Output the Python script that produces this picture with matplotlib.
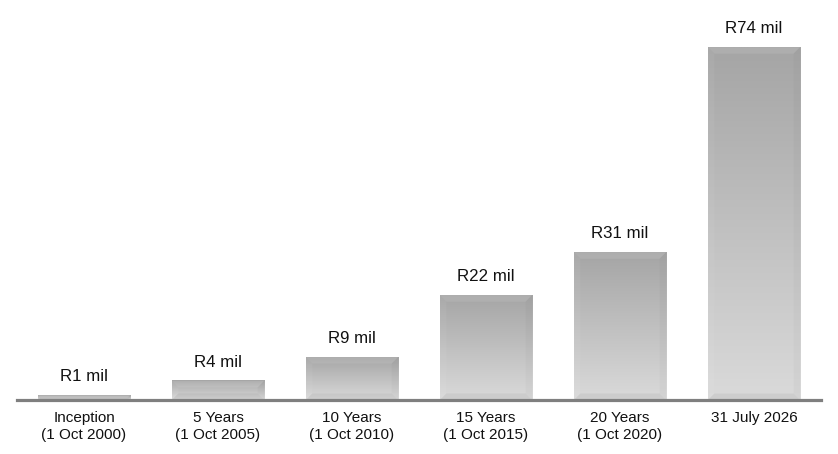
import numpy as np
import matplotlib
matplotlib.use("Agg")
import matplotlib.pyplot as plt
from matplotlib.colors import LinearSegmentedColormap
from matplotlib.patches import Polygon

plt.rcParams['font.family'] = ['Liberation Sans', 'DejaVu Sans']

categories = ['Inception\n(1 Oct 2000)', '5 Years\n(1 Oct 2005)', '10 Years\n(1 Oct 2010)',
              '15 Years\n(1 Oct 2015)', '20 Years\n(1 Oct 2020)', '31 July 2026']
values = [1, 4, 9, 22, 31, 74]
labels = ['R1 mil', 'R4 mil', 'R9 mil', 'R22 mil', 'R31 mil', 'R74 mil']

W, H = 838, 454
fig = plt.figure(figsize=(W / 100, H / 100), dpi=100)
# axes spans pixel x 18..822 and y 10..400 (from top)
ax = fig.add_axes([17 / W, (H - 400) / H, 804 / W, 390 / H])
ax.set_xlim(-0.5, 5.5)
ax.set_ylim(0, 81.8)

bw = 0.688
cmap = LinearSegmentedColormap.from_list('g', ['#dadada', '#a5a5a5'])
grad = np.linspace(0, 1, 256).reshape(-1, 1)

px_x = 804 / 6.0      # pixels per x unit
px_y = 390 / 81.8     # pixels per y unit
bev = 6.5

x = np.arange(len(values))
for xi, v in zip(x, values):
    l, r = xi - bw / 2, xi + bw / 2
    ax.imshow(grad, extent=[l, r, 0, v], origin='lower', cmap=cmap,
              aspect='auto', zorder=2, interpolation='bilinear')
    dx = bev / px_x
    dy = min(bev / px_y, v / 2.0)
    dxx = min(dx, dy * px_y / px_x) if v / 2.0 < bev / px_y else dx
    # top bevel (lighter)
    ax.add_patch(Polygon([[l, v], [r, v], [r - dxx, v - dy], [l + dxx, v - dy]],
                         closed=True, facecolor='white', alpha=0.1, lw=0, zorder=3))
    # left bevel (slightly lighter)
    ax.add_patch(Polygon([[l, v], [l + dxx, v - dy], [l + dxx, dy], [l, 0]],
                         closed=True, facecolor='white', alpha=0.05, lw=0, zorder=3))
    # right bevel (darker)
    ax.add_patch(Polygon([[r, v], [r - dxx, v - dy], [r - dxx, dy], [r, 0]],
                         closed=True, facecolor='black', alpha=0.025, lw=0, zorder=3))
    # bottom bevel (darker)
    ax.add_patch(Polygon([[l, 0], [r, 0], [r - dxx, dy], [l + dxx, dy]],
                         closed=True, facecolor='black', alpha=0.05, lw=0, zorder=3))

for xi, v, t in zip(x, values, labels):
    ax.annotate(t, (xi, v), xytext=(0, 8), textcoords='offset points',
                ha='center', va='bottom', fontsize=12.2, color='#111111')

ax.axhline(0, color='#7f7f7f', lw=2.3, zorder=4, clip_on=False)
for s in ax.spines.values():
    s.set_visible(False)
ax.set_yticks([])
ax.set_xticks(x)
ax.set_xticklabels(categories, fontsize=11, color='#111111', linespacing=1.3)
ax.tick_params(axis='x', length=0, pad=8)

fig.savefig('out.png', dpi=100, facecolor='white')
